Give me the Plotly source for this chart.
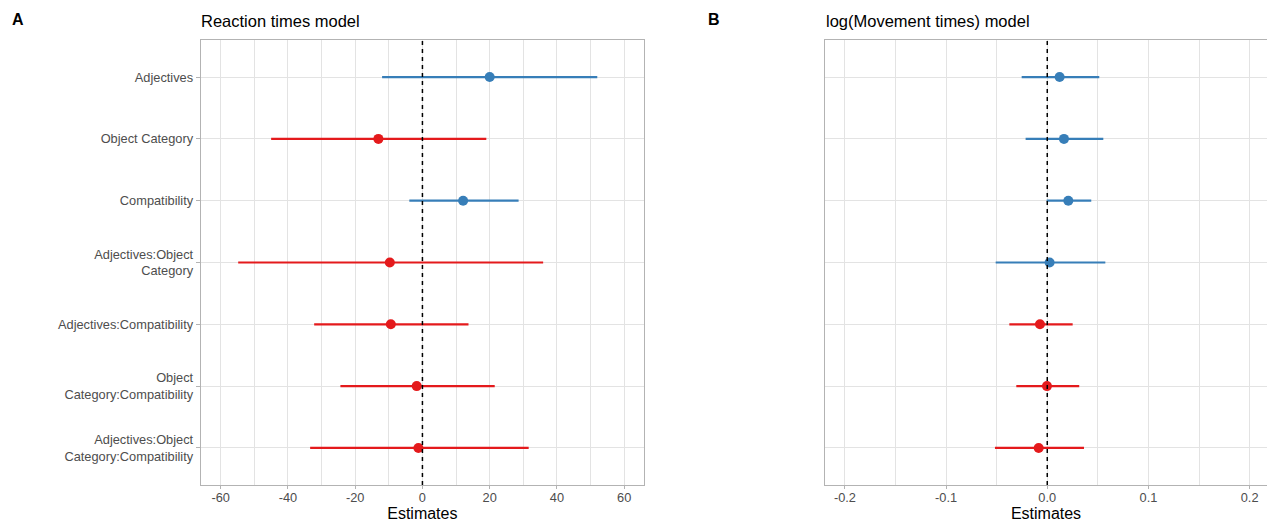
import plotly.graph_objects as go

# ---- data ----
terms = [
    "Adjectives",
    "Object Category",
    "Compatibility",
    "Adjectives:Object<br>Category",
    "Adjectives:Compatibility",
    "Object<br>Category:Compatibility",
    "Adjectives:Object<br>Category:Compatibility",
]
rt_est = [20.0, -13.1, 12.1, -9.7, -9.4, -1.7, -1.2]
rt_low = [-12.0, -45.0, -3.9, -54.8, -32.2, -24.4, -33.4]
rt_high = [52.0, 19.0, 28.6, 35.9, 13.7, 21.5, 31.6]

mt_est = [0.0122, 0.0165, 0.0208, 0.0023, -0.0072, -0.0003, -0.0085]
mt_low = [-0.0253, -0.0214, -0.0006, -0.051, -0.0375, -0.0306, -0.0517]
mt_high = [0.0514, 0.0554, 0.0435, 0.0574, 0.0251, 0.0316, 0.0363]

rt_ticks = [-60, -40, -20, 0, 20, 40, 60]
rt_ticklabels = ["-60", "-40", "-20", "0", "20", "40", "60"]
mt_ticks = [-0.2, -0.1, 0.0, 0.1, 0.2]
mt_ticklabels = ["-0.2", "-0.1", "0.0", "0.1", "0.2"]

BLUE = "#377EB8"
RED = "#E41A1C"
GRID = "#E3E3E3"
BORDER = "#B3B3B3"
FONT = "Liberation Sans, Arial, sans-serif"

W, H = 1267, 522
ypos = list(range(1, len(terms) + 1))

fig = go.Figure()


def add_panel(est, low, high, xa, ya):
    for i, (e, lo, hi) in enumerate(zip(est, low, high)):
        col = BLUE if e > 0 else RED
        fig.add_trace(go.Scatter(
            x=[lo, hi], y=[ypos[i], ypos[i]], mode="lines",
            line=dict(color=col, width=2.2), xaxis=xa, yaxis=ya,
            showlegend=False, hoverinfo="skip"))
        fig.add_trace(go.Scatter(
            x=[e], y=[ypos[i]], mode="markers",
            marker=dict(color=col, size=10), xaxis=xa, yaxis=ya,
            showlegend=False))


add_panel(rt_est, rt_low, rt_high, "x", "y")
add_panel(mt_est, mt_low, mt_high, "x2", "y2")

ydom = [1 - 485 / H, 1 - 40 / H]
TICKFONT = dict(family=FONT, size=12.8, color="#4D4D4D")
common_x = dict(
    showgrid=True, gridcolor=GRID, gridwidth=1, zeroline=False,
    showline=True, linecolor=BORDER, linewidth=1, mirror=True,
    ticks="outside", ticklen=3, tickcolor=BORDER, tickwidth=1,
    tickfont=TICKFONT, ticklabelstandoff=-2,
    title=dict(text="Estimates", font=dict(family=FONT, size=16, color="#000000"), standoff=4),
    automargin=False,
)
common_y = dict(
    range=[7.6, 0.4], tickvals=ypos, showgrid=True, gridcolor=GRID, gridwidth=1,
    zeroline=False, showline=True, linecolor=BORDER, linewidth=1, mirror=True,
    automargin=False, domain=ydom, tickfont=TICKFONT,
)

fig.update_layout(
    width=W, height=H,
    margin=dict(l=0, r=0, t=0, b=0),
    plot_bgcolor="white", paper_bgcolor="white",
    font=dict(family=FONT),
    xaxis=dict(common_x, domain=[200.7 / W, 644 / W], range=[-65.95, 65.9],
               tickvals=rt_ticks, ticktext=rt_ticklabels,
               minor=dict(dtick=10, tick0=0, showgrid=True, gridcolor=GRID, gridwidth=1, ticks=""),
               anchor="y"),
    yaxis=dict(common_y, ticktext=terms, ticks="outside", ticklen=4, tickcolor=BORDER,
               anchor="x"),
    xaxis2=dict(common_x, domain=[825 / W, 1.0], range=[-0.2197, 0.2172],
                tickvals=mt_ticks, ticktext=mt_ticklabels,
                minor=dict(dtick=0.05, tick0=0, showgrid=True, gridcolor=GRID, gridwidth=1, ticks=""),
                anchor="y2"),
    yaxis2=dict(common_y, ticktext=[""] * len(terms), ticks="", anchor="x2", mirror=False),
    shapes=[
        dict(type="line", xref="x", yref="y domain", x0=0, x1=0, y0=0, y1=1,
             line=dict(color="black", width=1.5, dash="4px,4px"), layer="above"),
        dict(type="line", xref="x2", yref="y2 domain", x0=0, x1=0, y0=0, y1=1,
             line=dict(color="black", width=1.5, dash="4px,4px"), layer="above"),
    ],
    annotations=[
        dict(text="<b>A</b>", x=10 / W, y=1 - 20 / H, xref="paper", yref="paper",
             xanchor="left", yanchor="middle", showarrow=False,
             font=dict(family=FONT, size=16, color="black")),
        dict(text="<b>B</b>", x=706 / W, y=1 - 20 / H, xref="paper", yref="paper",
             xanchor="left", yanchor="middle", showarrow=False,
             font=dict(family=FONT, size=16, color="black")),
        dict(text="Reaction times model", x=199 / W, y=1 - 21 / H, xref="paper", yref="paper",
             xanchor="left", yanchor="middle", showarrow=False,
             font=dict(family=FONT, size=16.5, color="black")),
        dict(text="log(Movement times) model", x=824 / W, y=1 - 21 / H, xref="paper", yref="paper",
             xanchor="left", yanchor="middle", showarrow=False,
             font=dict(family=FONT, size=16.5, color="black")),
    ],
)

fig.write_html("out.html", config={"displayModeBar": False},
               post_script="document.body.style.margin='0';document.body.style.overflow='hidden';")
